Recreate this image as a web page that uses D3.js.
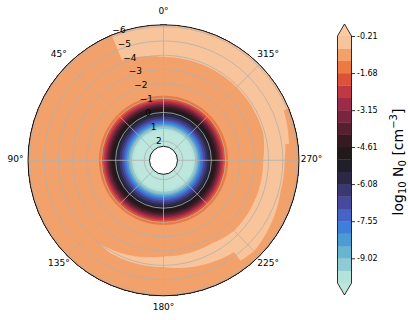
<!DOCTYPE html>
<html>
<head>
<meta charset="utf-8">
<script src="https://cdn.jsdelivr.net/npm/d3@7"></script>
<style>
  body { margin: 0; background: #fff; }
  text { font-family: "DejaVu Sans", sans-serif; }
</style>
</head>
<body>
<div id="container"></div>
<script>
// contour levels of log10 N0 (colorbar boundaries)
let levels = [-10.00, -9.51, -9.02, -8.53, -8.04, -7.55, -7.06, -6.57, -6.08, -5.59, -5.10,
              -4.61, -4.12, -3.64, -3.15, -2.66, -2.17, -1.68, -1.19, -0.70, -0.21];
let cbTicks = [-9.02, -7.55, -6.08, -4.61, -3.15, -1.68, -0.21];
// one colour per band, low -> high, plus under / over
let bandColors = ["#b6e3d9", "#8ecbd3", "#6ab3d1", "#4c9bd3", "#3f7fd9", "#4763c4", "#474a9c",
                  "#3a3871", "#2b2946", "#1f1e29", "#22191b", "#361a21", "#55202f", "#77263e",
                  "#9c2b47", "#be3944", "#dc5238", "#ec7a42", "#f2a16a", "#f8c49b"];
let underColor = "#bde7dd";
let overColor = "#fbcca4";

// radial axis
let rTicks = [2, 1, 0, -1, -2, -3, -4, -5, -6];
let thetaTicks = [0, 45, 90, 135, 180, 225, 270, 315];

// radial profile of the field (same at every angle)
let vCols = [2.5, 2.25, 2.0, 1.75, 1.5, 1.25, 1.0, 0.75, 0.5, 0.25, 0.0, -0.25, -0.5, -0.75,
             -1.0, -1.25, -1.5, -1.75, -2.0, -2.25, -2.5, -2.75, -3.0, -3.25, -3.5, -3.75,
             -4.0, -4.25, -4.5, -4.75, -5.0, -5.25, -5.5, -5.75, -6.0, -6.25];
let profile = [-11, -11, -11, -10.8, -10.4, -9.8, -9.0, -7.9, -6.8, -6.0, -5.3, -4.6, -3.7, -2.5,
               -1.5, -1.05, -0.95, -0.95, -0.95, -0.95, -0.95, -0.95, -0.95, -0.95, -0.95, -0.95,
               -0.95, -0.95, -0.95, -0.95, -0.95, -0.95, -0.95, -0.95, -0.95, -0.95];
// lighter outer patch: inner / outer radial limits at each angle (null = none)
let thetaRows = [0, 15, 30, 45, 60, 75, 90, 105, 120, 135, 150, 165,
                 180, 195, 210, 225, 240, 255, 270, 285, 300, 315, 330, 345];
let patchIn  = [-4.0, -4.1, null, null, null, null, null, null, null, null, -3.9, -3.6,
                -3.4, -3.4, -3.5, -3.7, -3.7, -3.6, -3.6, -3.8, -4.0, -4.0, -4.0, -4.0];
let patchOut = [-6.4, -6.4, null, null, null, null, null, null, null, null, -4.1, -4.2,
                -4.2, -4.4, -4.7, -5.5, -5.3, -5.2, -5.2, -5.7, -6.4, -6.4, -6.4, -6.4];
let patchValue = -0.45;

let w = 408, h = 320;
let cx = 163.5, cy = 160.3, R = 135.5, R0 = 14;

let viz = d3.select("#container").append("svg")
    .attr("width", w)
    .attr("height", h)
    .style("display", "block");

let r = d3.scaleLinear().domain([2.37, -6.13]).range([R0, R]);

function pt(theta, p) {
  let a = theta * Math.PI / 180;
  return [cx - p * Math.sin(a), cy - p * Math.cos(a)];
}

// build the grid: rows = angles (padded so it wraps), cols = radial values
let rowOrder = [thetaRows.length - 1].concat(d3.range(thetaRows.length), [0, 1]);
let nx = vCols.length, ny = rowOrder.length;
let grid = [];
rowOrder.forEach(function(i) {
  vCols.forEach(function(v, j) {
    let inside = patchIn[i] != null && v <= patchIn[i] && v >= patchOut[i];
    grid.push(inside ? patchValue : profile[j]);
  });
});

let gxToV = d3.scaleLinear().domain([0.5, nx - 0.5]).range([vCols[0], vCols[nx - 1]]);
let gyToTheta = d3.scaleLinear().domain([0.5, ny - 0.5]).range([-15, 15 * (ny - 2)]);
let gyLo = gyToTheta.invert(0), gyHi = gyToTheta.invert(360);

function clipRing(ring, keep, cross) {
  let out = [];
  for (let i = 0; i < ring.length; i++) {
    let a = ring[i], b = ring[(i + 1) % ring.length];
    let ka = keep(a), kb = keep(b);
    if (ka) out.push(a);
    if (ka !== kb) out.push(cross(a, b));
  }
  return out;
}
function crossAt(g) {
  return function(a, b) {
    let t = (g - a[1]) / (b[1] - a[1]);
    return [a[0] + t * (b[0] - a[0]), g];
  };
}

function ringPath(ring) {
  ring = clipRing(ring, d => d[1] >= gyLo, crossAt(gyLo));
  ring = clipRing(ring, d => d[1] <= gyHi, crossAt(gyHi));
  if (ring.length < 3) return "";
  let pts = [];
  for (let i = 0; i < ring.length; i++) {
    let a = ring[i], b = ring[(i + 1) % ring.length];
    let n = Math.max(1, Math.ceil(Math.abs(b[1] - a[1]) * 15));
    for (let k = 0; k < n; k++) {
      let gx = a[0] + (b[0] - a[0]) * k / n;
      let gy = a[1] + (b[1] - a[1]) * k / n;
      pts.push(pt(gyToTheta(gy), r(gxToV(gx))));
    }
  }
  return "M" + pts.map(p => p[0].toFixed(2) + "," + p[1].toFixed(2)).join("L") + "Z";
}

let contours = d3.contours().size([nx, ny]).thresholds(levels)(grid);

viz.append("clipPath").attr("id", "disc")
  .append("circle").attr("cx", cx).attr("cy", cy).attr("r", R);

let field = viz.append("g").attr("clip-path", "url(#disc)");
field.append("circle")
    .attr("cx", cx).attr("cy", cy).attr("r", R)
    .attr("fill", underColor);
field.selectAll("path.band")
  .data(contours)
  .join("path")
    .attr("class", "band")
    .attr("fill-rule", "evenodd")
    .attr("fill", (d, i) => i < bandColors.length ? bandColors[i] : overColor)
    .attr("d", d => d.coordinates.map(poly => poly.map(ringPath).join("")).join(""));

// grid lines
let gridG = viz.append("g")
    .attr("fill", "none")
    .attr("stroke", "#b0b0b0")
    .attr("stroke-width", 0.8);
gridG.selectAll("circle")
  .data(rTicks)
  .join("circle")
    .attr("cx", cx).attr("cy", cy)
    .attr("r", d => r(d));
gridG.selectAll("line")
  .data(thetaTicks)
  .join("line")
    .attr("x1", d => pt(d, R0)[0]).attr("y1", d => pt(d, R0)[1])
    .attr("x2", d => pt(d, R)[0]).attr("y2", d => pt(d, R)[1]);

// spines
viz.append("circle")
    .attr("cx", cx).attr("cy", cy).attr("r", R)
    .attr("fill", "none").attr("stroke", "#000").attr("stroke-width", 0.9);
viz.append("circle")
    .attr("cx", cx).attr("cy", cy).attr("r", R0)
    .attr("fill", "#fff").attr("stroke", "#000").attr("stroke-width", 0.9);

// radial tick labels
viz.append("g").selectAll("text")
  .data(rTicks)
  .join("text")
    .attr("x", d => pt(22.5, r(d))[0])
    .attr("y", d => pt(22.5, r(d))[1] - (1 + 0.045 * r(d)))
    .attr("dominant-baseline", "central")
    .attr("font-size", 9)
    .text(d => d < 0 ? "\u2212" + Math.abs(d) : d);

// angle labels
viz.append("g").selectAll("text")
  .data(thetaTicks)
  .join("text")
    .attr("x", d => pt(d, 148)[0])
    .attr("y", d => pt(d, 148)[1] - 1.5)
    .attr("text-anchor", "middle")
    .attr("dominant-baseline", "central")
    .attr("font-size", 9)
    .text(d => d + "\u00b0");

// colorbar
let cbX = 337.5, cbW = 14, cbTop = 36, cbBot = 283, tip = 12;
let cbY = d3.scaleLinear().domain([levels[0], levels[levels.length - 1]]).range([cbBot, cbTop]);
let cb = viz.append("g");
cb.selectAll("rect")
  .data(bandColors)
  .join("rect")
    .attr("x", cbX)
    .attr("width", cbW)
    .attr("y", (d, i) => cbY(levels[i + 1]))
    .attr("height", (d, i) => cbY(levels[i]) - cbY(levels[i + 1]) + 0.3)
    .attr("fill", d => d);
cb.append("path")
    .attr("d", `M${cbX},${cbTop}L${cbX + cbW / 2},${cbTop - tip}L${cbX + cbW},${cbTop}Z`)
    .attr("fill", overColor);
cb.append("path")
    .attr("d", `M${cbX},${cbBot}L${cbX + cbW / 2},${cbBot + tip}L${cbX + cbW},${cbBot}Z`)
    .attr("fill", underColor);
cb.append("path")
    .attr("d", `M${cbX},${cbTop}L${cbX + cbW / 2},${cbTop - tip}L${cbX + cbW},${cbTop}` +
               `L${cbX + cbW},${cbBot}L${cbX + cbW / 2},${cbBot + tip}L${cbX},${cbBot}Z`)
    .attr("fill", "none").attr("stroke", "#000").attr("stroke-width", 0.8);

let cbAxis = cb.append("g")
    .attr("transform", `translate(${cbX + cbW},0)`)
    .call(d3.axisRight(cbY).tickValues(cbTicks).tickSize(3.5).tickPadding(2)
      .tickFormat(d => d.toFixed(2)));
cbAxis.select(".domain").remove();
cbAxis.selectAll("text").attr("font-size", 8).attr("font-family", "DejaVu Sans").attr("fill", "#000");
cbAxis.selectAll("line").attr("stroke", "#000").attr("stroke-width", 0.8);

let lab = viz.append("text")
    .attr("transform", "translate(403,162) rotate(-90)")
    .attr("text-anchor", "middle")
    .attr("font-size", 14);
lab.append("tspan").text("log");
lab.append("tspan").attr("font-size", 10).attr("dy", 3).text("10");
lab.append("tspan").attr("dy", -3).text(" N");
lab.append("tspan").attr("font-size", 10).attr("dy", 3).text("0");
lab.append("tspan").attr("dy", -3).text(" [cm");
lab.append("tspan").attr("font-size", 10).attr("dy", -6).text("\u22123");
lab.append("tspan").attr("dy", 6).text("]");
</script>
</body>
</html>
